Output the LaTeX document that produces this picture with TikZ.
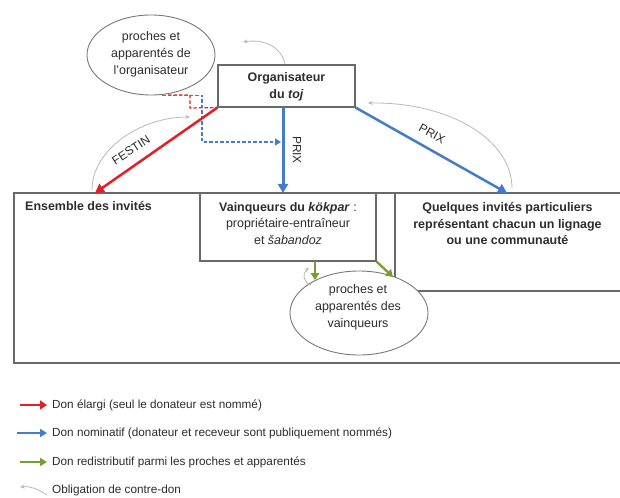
\documentclass[tikz,border=0pt]{standalone}
\usepackage{fontspec}
\setmainfont{Liberation Sans}
\usetikzlibrary{arrows.meta,shapes.geometric}
\definecolor{cRed}{RGB}{226,32,38}
\definecolor{cBlue}{RGB}{68,124,200}
\definecolor{cGreen}{RGB}{118,158,48}
\definecolor{cArc}{RGB}{185,185,185}
\definecolor{cFrame}{RGB}{105,105,105}
\definecolor{cText}{RGB}{45,45,45}
\begin{document}
\begin{tikzpicture}[x=1bp,y=-1bp,
  every node/.style={text=cText},
  maintext/.style={font=\fontsize{12.5}{17}\selectfont, align=center, inner sep=0pt},
  legtext/.style={font=\fontsize{11.8}{13}\selectfont, anchor=west, inner sep=0pt},
  frame/.style={draw=cFrame, line width=1.3bp},
  boxnode/.style={rectangle, draw=cFrame, line width=1.1bp, fill=white, inner sep=0pt},
  ellnode/.style={ellipse, draw=cFrame!90, line width=0.9bp, fill=white, inner sep=0pt},
  redarrow/.style={draw=cRed, line width=2.5bp, -{Triangle[length=9bp,width=10bp]}},
  bluearrow/.style={draw=cBlue, line width=2.5bp, -{Triangle[length=9bp,width=10bp]}},
  greenarrow/.style={draw=cGreen, line width=2.3bp, -{Triangle[length=7bp,width=8.5bp]}},
  reddash/.style={draw=cRed, line width=1.2bp, dash pattern=on 3.5bp off 2bp},
  bluedash/.style={draw=cBlue, line width=1.2bp, dash pattern=on 3.5bp off 2bp},
  oblig/.style={draw=cArc, line width=0.8bp, -{Stealth[length=4.5bp,width=4bp]}},
  lbl/.style={font=\fontsize{12}{14}\selectfont, inner sep=0pt}
]
\useasboundingbox (0,0) rectangle (620,498);
\fill[white] (0,0) rectangle (620,498);

% outer frame "Ensemble des invites"
\draw[frame] (621,193) -- (14,193) -- (14,363) -- (621,363);
\node[maintext, anchor=west] (ens) at (25,206) {\textbf{Ensemble des invités}};

% Quelques invites box
\draw[frame] (621,291) -- (395,291) -- (395,193);
\node[maintext] (qu) at (507.5,223.5) {\textbf{Quelques invités particuliers}\\\textbf{représentant chacun un lignage}\\\textbf{ou une communauté}};
\coordinate (quTop) at (507,193);

% Vainqueurs box
\node[boxnode, minimum width=176bp, minimum height=68bp] (vq) at (288,227) {};
\node[maintext] (vqt) at (288,223.5) {\textbf{Vainqueurs du \textit{kökpar}} :\\propriétaire-entraîneur\\et \textit{šabandoz}};

% ellipse proches des vainqueurs
\node[ellnode, minimum width=138bp, minimum height=84bp] (pv) at (359,313) {};
\node[maintext] (pvt) at (358,307) {proches et\\apparentés des\\vainqueurs};

% organisateur
\node[boxnode, minimum width=137bp, minimum height=42bp] (org) at (286.5,86) {};
\node[maintext] (orgt) at (286.5,86.5) {\textbf{Organisateur}\\\textbf{du \textit{toj}}};

% ellipse proches de l'organisateur
\node[ellnode, minimum width=128bp, minimum height=80bp] (po) at (151,55) {};
\node[maintext] (pot) at (151,54.5) {proches et\\apparentés de\\l'organisateur};

% coordinates
\coordinate (redEnd) at (95,193);
\coordinate (blueV0) at (283,107);
\coordinate (blueV1) at (283,193);
\coordinate (dashR0) at (168,95);
\coordinate (dashB0) at (162,95.5);
\coordinate (dashBEnd) at (281,142);
\coordinate (g1a) at (315,261);
\coordinate (g1b) at (315,280);
\coordinate (g2b) at (393,277);

% dashed links
\draw[reddash] (dashR0) -- (190,95) -- (190,108) -- (org.south west);
\draw[bluedash, -{Triangle[length=6bp,width=7bp]}] (dashB0) -- (202,95.5) -- (202,142) -- (dashBEnd);

% main arrows
\draw[redarrow] (org.south west) -- (redEnd);
\draw[bluearrow, line width=3bp] (blueV0) -- (blueV1);
\draw[bluearrow] (org.south east) -- (quTop);
\draw[greenarrow] (g1a) -- (g1b);
\draw[greenarrow] (vq.south east) -- (g2b);

% labels
\node[lbl, rotate=33] (festin) at (131,150) {FESTIN};
\node[lbl, rotate=-90] (prix1) at (297,150) {PRIX};
\node[lbl, rotate=-29] (prix2) at (432,134) {PRIX};

% obligation arcs
\draw[oblig] (285,64) .. controls (281,46) and (263,39) .. (243,42);
\draw[oblig] (92,190) .. controls (92,150) and (140,117) .. (190,117);
\draw[oblig] (512,188) .. controls (512,140) and (450,102) .. (368,103);
\draw[oblig] (311,285) .. controls (303,283) and (302,273) .. (309,268);

% legend
\coordinate (l1a) at (20,405); \coordinate (l1b) at (47,405);
\coordinate (l2a) at (17,433); \coordinate (l2b) at (47,433);
\coordinate (l3a) at (20,462); \coordinate (l3b) at (47,462);
\coordinate (l4a) at (47,495); \coordinate (l4b) at (20,487);
\draw[redarrow, line width=2.4bp, -{Triangle[length=7bp,width=9bp]}] (l1a) -- (l1b);
\draw[bluearrow, line width=1.8bp, -{Triangle[length=7bp,width=8bp]}] (l2a) -- (l2b);
\draw[greenarrow, line width=2bp, -{Triangle[length=7bp,width=8bp]}] (l3a) -- (l3b);
\draw[oblig] (l4a) .. controls (38,489) and (30,486) .. (l4b);
\node[legtext] (leg1) at (52,405) {Don élargi (seul le donateur est nommé)};
\node[legtext] (leg2) at (52,433) {Don nominatif (donateur et receveur sont publiquement nommés)};
\node[legtext] (leg3) at (52,462) {Don redistributif parmi les proches et apparentés};
\node[legtext] (leg4) at (52,490) {Obligation de contre-don};
\end{tikzpicture}
\end{document}
